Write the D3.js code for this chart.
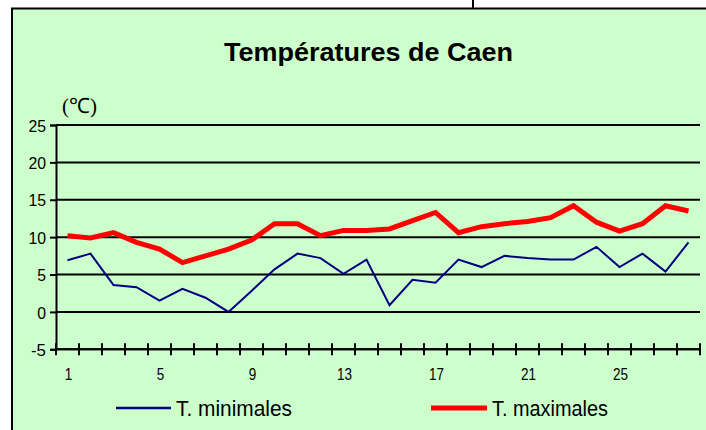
<!DOCTYPE html>
<html>
<head>
<meta charset="utf-8">
<script src="https://cdn.jsdelivr.net/npm/d3@7"></script>
<style>
  body { margin: 0; background: #fff; }
  svg { display: block; }
  text { font-family: "Liberation Sans", Arial, sans-serif; }
</style>
</head>
<body>
<svg id="svg1" width="706" height="430"></svg>
<script>
// jours du mois
var days = d3.range(1, 29);
var dayLabels = [1, 5, 9, 13, 17, 21, 25];
var yTicks = [-5, 0, 5, 10, 15, 20, 25];

// températures
var tMin = [6.9, 7.8, 3.6, 3.3, 1.5, 3.1, 1.9, 0.0, 2.8, 5.7, 7.8, 7.2, 5.1, 7.0,
            0.9, 4.3, 3.9, 7.0, 6.0, 7.5, 7.2, 7.0, 7.0, 8.7, 6.0, 7.8, 5.4, 9.3];
var tMax = [10.2, 9.9, 10.6, 9.3, 8.4, 6.6, 7.5, 8.4, 9.6, 11.8, 11.8, 10.2, 10.9, 10.9,
            11.1, 12.2, 13.3, 10.6, 11.4, 11.8, 12.1, 12.6, 14.2, 12.0, 10.8, 11.8, 14.2, 13.5];

var svg = d3.select('#svg1');

// fond vert + cadre
svg.append('rect')
    .attr('x', 12).attr('y', 8.5)
    .attr('width', 706).attr('height', 430)
    .attr('fill', '#ccffcc')
    .attr('stroke', 'black')
    .attr('stroke-width', 2);

svg.append('line')
    .attr('x1', 473).attr('x2', 473)
    .attr('y1', 0).attr('y2', 9)
    .attr('stroke', 'black').attr('stroke-width', 2);

var scaleX = d3.scaleBand().domain(days).range([56, 700]);
var scaleY = d3.scaleLinear().domain([-5, 25]).range([349.3, 125]);

// titre
svg.append('text')
    .attr('x', 368.5).attr('y', 60.5)
    .attr('text-anchor', 'middle')
    .attr('font-size', 26)
    .attr('font-weight', 'bold')
    .attr('textLength', 289)
    .attr('lengthAdjust', 'spacingAndGlyphs')
    .text('Températures de Caen');

svg.append('text')
    .attr('x', 62).attr('y', 113)
    .style('font-family', '"Liberation Serif", "Times New Roman", serif')
    .attr('font-size', 21)
    .text('(℃)');

// lignes horizontales
svg.selectAll('.grid')
    .data(yTicks)
    .enter()
    .append('line')
    .attr('class', 'grid')
    .attr('x1', 56).attr('x2', 700)
    .attr('y1', function(d) { return scaleY(d); })
    .attr('y2', function(d) { return scaleY(d); })
    .attr('stroke', 'black')
    .attr('stroke-width', 2);

// axe Y
var axisY = svg.append('g')
    .attr('transform', 'translate(56,0)')
    .call(d3.axisLeft(scaleY).tickValues(yTicks).tickFormat(String).tickSize(6).tickPadding(4));
axisY.select('.domain').attr('stroke-width', 2);
axisY.selectAll('.tick line').attr('stroke-width', 2);
axisY.selectAll('.tick text')
    .attr('font-size', 17)
    .attr('fill', 'black')
    .attr('dy', '0.36em')
    .style('font-family', '"Liberation Sans", Arial, sans-serif')
    .attr('textLength', function(d) { return d < 0 ? 15 : String(d).length * 8.8; })
    .attr('lengthAdjust', 'spacingAndGlyphs');

// axe X : graduations entre les jours
var tickPos = d3.range(0, days.length + 1).map(function(i) { return 56 + i * scaleX.step(); });
svg.append('line')
    .attr('x1', 56).attr('x2', 700)
    .attr('y1', scaleY(-5)).attr('y2', scaleY(-5))
    .attr('stroke', 'black').attr('stroke-width', 2);
svg.selectAll('.xtick')
    .data(tickPos)
    .enter()
    .append('line')
    .attr('class', 'xtick')
    .attr('x1', function(d) { return d; })
    .attr('x2', function(d) { return d; })
    .attr('y1', scaleY(-5) - 6)
    .attr('y2', scaleY(-5) + 6)
    .attr('stroke', 'black').attr('stroke-width', 2);

svg.selectAll('.xlabel')
    .data(dayLabels)
    .enter()
    .append('text')
    .attr('class', 'xlabel')
    .attr('x', function(d) { return scaleX(d) + scaleX.bandwidth() / 2 + 1; })
    .attr('y', 380)
    .attr('text-anchor', 'middle')
    .attr('font-size', 16)
    .attr('textLength', function(d) { return String(d).length * 7.5; })
    .attr('lengthAdjust', 'spacingAndGlyphs')
    .text(function(d) { return d; });

// courbes
var line = function(values) {
  return d3.line()
    .x(function(d, i) { return scaleX(days[i]) + scaleX.bandwidth() / 2; })
    .y(function(d) { return scaleY(d); })(values);
};

svg.append('path')
    .attr('d', line(tMin))
    .attr('fill', 'none')
    .attr('stroke', '#000080')
    .attr('stroke-width', 2);

svg.append('path')
    .attr('d', line(tMax))
    .attr('fill', 'none')
    .attr('stroke', '#ff0000')
    .attr('stroke-width', 5);

// légende
var legend = [
  { name: 'T. minimales', color: '#000080', w: 2.5, x1: 116, x2: 171, tx: 176 },
  { name: 'T. maximales', color: '#ff0000', w: 5, x1: 431, x2: 487, tx: 492 }
];
legend.forEach(function(l) {
  svg.append('line')
      .attr('x1', l.x1).attr('x2', l.x2)
      .attr('y1', 408).attr('y2', 408)
      .attr('stroke', l.color)
      .attr('stroke-width', l.w);
  svg.append('text')
      .attr('x', l.tx).attr('y', 416)
      .attr('font-size', 22)
      .attr('textLength', 116)
      .attr('lengthAdjust', 'spacingAndGlyphs')
      .text(l.name);
});
</script>
</body>
</html>
